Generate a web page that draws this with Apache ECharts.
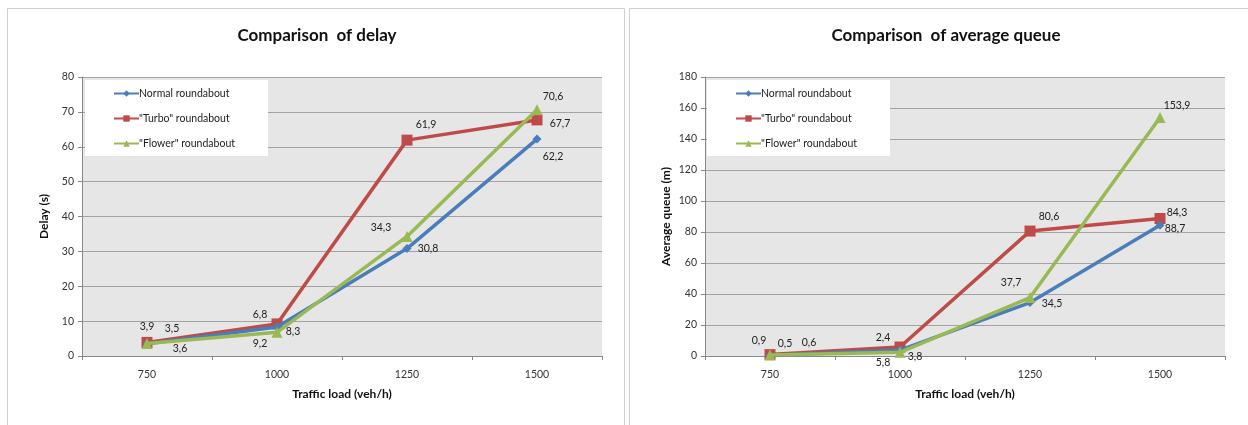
<!DOCTYPE html>
<html>
<head>
<meta charset="utf-8">
<script src="https://cdn.jsdelivr.net/npm/echarts@6/dist/echarts.min.js"></script>
<style>
html,body{margin:0;padding:0;background:#fff;}
#c{width:1248px;height:425px;}
</style>
</head>
<body>
<div id="c"></div>
<script>
// ---- data ----
const categories = ['750', '1000', '1250', '1500'];
const seriesNames = ['Normal roundabout', '"Turbo" roundabout', '"Flower" roundabout'];

// Delay (s)
const delayNormal = [3.5, 8.3, 30.8, 62.2];
const delayTurbo = [3.9, 9.2, 61.9, 67.7];
const delayFlower = [3.6, 6.8, 34.3, 70.6];
const delayNormalLabels = ['3,5', '8,3', '30,8', '62,2'];
const delayTurboLabels = ['3,9', '6,8', '61,9', '67,7'];
const delayFlowerLabels = ['3,6', '9,2', '34,3', '70,6'];

// Average queue (m)
const queueNormal = [0.5, 3.8, 34.5, 84.3];
const queueTurbo = [0.9, 5.8, 80.6, 88.7];
const queueFlower = [0.6, 2.4, 37.7, 153.9];
const queueNormalLabels = ['0,5', '3,8', '34,5', '88,7'];
const queueTurboLabels = ['0,9', '2,4', '80,6', '84,3'];
const queueFlowerLabels = ['0,6', '5,8', '37,7', '153,9'];

// ---- styling ----
const FONT = 'Lato, "Open Sans", sans-serif';
const colors = ['#4a7ebb', '#be4b48', '#98b954'];
const symbols = ['diamond', 'rect', 'triangle'];
const symbolSizes = [9, 11, 11];

// label offsets (styling only)
const delayOffsets = [
  [[25, -15], [16, 5], [21, 0], [16, 18]],
  [[0, -16], [-17, -9], [19, -16], [23, 4]],
  [[33, 5], [-17, 11], [-26, -9], [16, -13]]
];
const queueOffsets = [
  [[15, -12], [15, 6], [22, 1], [15, 3]],
  [[-11, -14], [-17, -9], [19, -14], [17, -6]],
  [[39, -12], [-17, 10], [-19, -15], [17, -12]]
];

function buildSeries(vals, labels, offsets, axisIdx) {
  return vals.map((v, s) => ({
    name: seriesNames[s],
    type: 'line',
    xAxisIndex: axisIdx,
    yAxisIndex: axisIdx,
    data: v.map((d, i) => ({
      value: d,
      label: { offset: offsets[s][i] }
    })),
    symbol: symbols[s],
    symbolSize: symbolSizes[s],
    lineStyle: { width: 3.5, color: colors[s] },
    itemStyle: { color: colors[s] },
    z: s === 0 ? 4 : (s === 1 ? 3 : 5),
    label: {
      show: true,
      position: 'inside',
      align: 'center',
      verticalAlign: 'middle',
      color: '#222',
      fontSize: 10.5,
      fontFamily: FONT,
      formatter: p => labels[s][p.dataIndex]
    },
    emphasis: { disabled: true },
    animation: false
  }));
}

function xAxis(gi) {
  return {
    type: 'category', gridIndex: gi, data: categories, boundaryGap: true,
    name: 'Traffic load (veh/h)', nameLocation: 'middle', nameGap: 32,
    nameTextStyle: { fontFamily: FONT, fontWeight: 'bold', fontSize: 12, color: '#111' },
    axisLine: { lineStyle: { color: '#888', width: 1 } },
    axisTick: { show: true, length: 4, lineStyle: { color: '#888' } },
    axisLabel: { fontFamily: FONT, fontSize: 10.5, color: '#333', margin: 13 },
    splitLine: { show: false }
  };
}
function yAxis(gi, max, interval, name, gap) {
  return {
    type: 'value', gridIndex: gi, min: 0, max: max, interval: interval,
    name: name, nameLocation: 'middle', nameGap: gap,
    nameTextStyle: { fontFamily: FONT, fontWeight: 'bold', fontSize: 12, color: '#111' },
    axisLine: { show: true, lineStyle: { color: '#888', width: 1 } },
    axisTick: { show: true, length: 4, lineStyle: { color: '#888' } },
    axisLabel: { fontFamily: FONT, fontSize: 10.5, color: '#333', margin: 8 },
    splitLine: { show: true, lineStyle: { color: '#a3a3a3', width: 1 } }
  };
}
function legend(left) {
  return {
    orient: 'vertical', left: left, top: 80,
    data: seriesNames,
    backgroundColor: '#fff',
    padding: [8, 33, 7, 28],
    itemWidth: 25, itemHeight: 8, itemGap: 14,
    textStyle: { fontFamily: FONT, fontSize: 10.5, color: '#222', padding: [0, 0, 0, -5] },
    selectedMode: false
  };
}

const chart = echarts.init(document.getElementById('c'), null, { renderer: 'canvas' });
chart.setOption({
  backgroundColor: '#fff',
  animation: false,
  graphic: [
    { type: 'rect', shape: { x: 7.5, y: 8.5, width: 617, height: 440 }, style: { fill: 'none', stroke: '#cfcfcf', lineWidth: 1 }, z: -10 },
    { type: 'rect', shape: { x: 629.5, y: 8.5, width: 640, height: 440 }, style: { fill: 'none', stroke: '#cfcfcf', lineWidth: 1 }, z: -10 },
    { type: 'rect', shape: { x: 82, y: 77, width: 520, height: 279 }, style: { fill: '#e6e6e6' }, z: -5 },
    { type: 'rect', shape: { x: 705, y: 77, width: 520, height: 279 }, style: { fill: '#e6e6e6' }, z: -5 }
  ],
  title: [
    { text: 'Comparison  of delay', left: 312, top: 22, textAlign: 'center',
      textStyle: { fontFamily: FONT, fontWeight: 'bold', fontSize: 17, color: '#111' } },
    { text: 'Comparison  of average queue', left: 941, top: 22, textAlign: 'center',
      textStyle: { fontFamily: FONT, fontWeight: 'bold', fontSize: 17, color: '#111' } }
  ],
  legend: [legend(85), legend(707)],
  grid: [
    { left: 82, top: 77, width: 520, height: 279 },
    { left: 705, top: 77, width: 520, height: 279 }
  ],
  xAxis: [xAxis(0), xAxis(1)],
  yAxis: [yAxis(0, 80, 10, 'Delay (s)', 32), yAxis(1, 180, 20, 'Average queue (m)', 33)],
  series: [
    ...buildSeries([delayNormal, delayTurbo, delayFlower],
      [delayNormalLabels, delayTurboLabels, delayFlowerLabels], delayOffsets, 0),
    ...buildSeries([queueNormal, queueTurbo, queueFlower],
      [queueNormalLabels, queueTurboLabels, queueFlowerLabels], queueOffsets, 1)
  ]
});
</script>
</body>
</html>
